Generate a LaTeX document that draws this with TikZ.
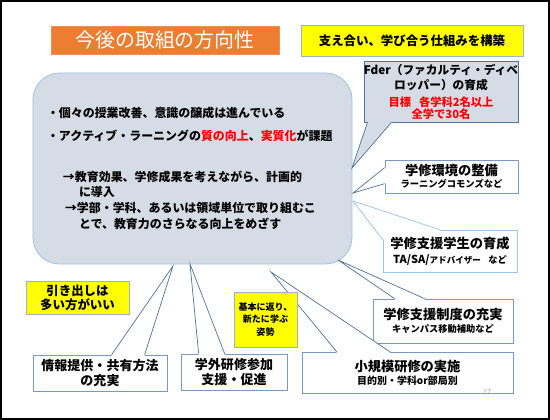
\documentclass[tikz,border=0pt]{standalone}
\usepackage{fontspec}
\setmainfont{Noto Sans CJK JP}
\usetikzlibrary{calc}
\definecolor{slideorange}{HTML}{ED7D31}
\definecolor{slidered}{HTML}{FF0000}
\definecolor{notefill}{HTML}{FFFF00}
\definecolor{noteedge}{HTML}{9EB3C9}
\definecolor{mainfill}{HTML}{D6DCE5}
\definecolor{mainedge}{HTML}{9DC3E6}
\definecolor{boxedge}{HTML}{7A99BD}
\definecolor{tailline}{HTML}{4F7399}
\definecolor{assistedge}{HTML}{9DC3E6}
\tikzset{
    plan_title/.style={
        rectangle,
        draw=slideorange!85!white,
        fill=slideorange,
        text=white,
        minimum width=68.4mm,
        minimum height=8.4mm,
        inner sep=0pt,
        font=\fontsize{17}{20}\selectfont
    },
    plan_banner/.style={
        rectangle,
        draw=noteedge,
        fill=notefill,
        line width=0.5pt,
        minimum width=66.6mm,
        minimum height=9.3mm,
        inner sep=0pt,
        font=\bfseries\fontsize{10.6}{13}\selectfont
    },
    plan_main/.style={
        rectangle,
        rounded corners=8mm,
        draw=mainedge,
        fill=mainfill,
        line width=0.7pt,
        minimum width=95.7mm,
        minimum height=57.3mm,
        text width=87.3mm,
        inner xsep=4.2mm,
        inner ysep=0pt,
        align=left,
        font=\bfseries\fontsize{10.2}{13.4}\selectfont
    },
    plan_callout/.style={
        rectangle,
        draw=boxedge,
        fill=white,
        line width=0.6pt,
        inner sep=0pt,
        align=center,
        font=\bfseries\fontsize{7.9}{10.2}\selectfont
    },
    plan_note/.style={
        rectangle,
        draw=noteedge,
        fill=notefill,
        line width=0.5pt,
        inner sep=0pt,
        align=center,
        font=\bfseries\fontsize{10.6}{12}\selectfont
    },
    plan_tail/.style={
        draw=tailline,
        line width=0.6pt
    },
    plan_tail_light/.style={
        draw=assistedge,
        line width=0.6pt
    }
}
\newcommand{\planhead}[1]{{\fontsize{11.3}{12}\selectfont #1}}
% tail of a callout: fill, line style, base point, tip, base point, shift into the box
\newcommand{\plantail}[6]{
    \fill[#1] (#3) -- (#4) -- (#5) -- ([shift={#6}]#5) -- ([shift={#6}]#3) -- cycle;
    \draw[#2] (#3) -- (#4) -- (#5);
}

\begin{document}
\begin{tikzpicture}[x=0.3mm, y=-0.3mm]
\useasboundingbox (0,0) rectangle (550,420);
\draw[line width=0.6mm] (1,1) rectangle (549,419);

% Headline
\node[plan_title] (title) at (165,40) {今後の取組の方向性};
\node[plan_banner] (banner) at (412,40.5) {支え合い、学び合う仕組みを構築};

% Present state
\node[plan_main] (main) at (192.5,168.5)
  {・個々の授業改善、意識の醸成は進んでいる\\[6.2pt]
   ・アクティブ・ラーニングの\textcolor{slidered}{質の向上}、\textcolor{slidered}{実質化}が課題\\[21pt]
   \hspace*{4.8mm}→教育効果、学修成果を考えながら、計画的\\
   \hspace*{9.6mm}に導入\\
   \hspace*{5.4mm}→学部・学科、あるいは領域単位で取り組むこ\\
   \hspace*{9.6mm}とで、教育力のさらなる向上をめざす};

% Callouts
\node[plan_callout, fill=mainfill, draw=tailline, minimum width=46.2mm, minimum height=18.3mm,
  font=\bfseries\fontsize{10}{10.2}\selectfont] (fder) at (441,91.5)
  {Fder（ファカルティ・ディベ\\[3pt]ロッパー）の育成\\[4pt]
   {\fontsize{9.6}{10}\selectfont\textcolor{slidered}{目標\hspace{0.7em}各学科2名以上}}\\
   {\fontsize{9.6}{10}\selectfont\textcolor{slidered}{全学で30名}}};
\node[plan_callout, minimum width=39.9mm, minimum height=9.9mm] (env) at (451.5,176.5)
  {\planhead{学修環境の整備}\\ラーニングコモンズなど};
\node[plan_callout, draw=assistedge, minimum width=40.2mm, minimum height=12.6mm] (assist) at (450,251)
  {\planhead{学修支援学生の育成}\\[2.4pt]
   {\fontsize{9.4}{10}\selectfont TA/SA/}{\fontsize{7.3}{10}\selectfont アドバイザー}\hspace{0.8em}など};
\node[plan_callout, minimum width=42mm, minimum height=13.2mm] (system) at (443,321)
  {\planhead{学修支援制度の充実}\\[0.9pt]キャンパス移動補助など};
\node[plan_callout, minimum width=63.3mm, minimum height=12.3mm,
  font=\bfseries\fontsize{8.5}{10.2}\selectfont] (small) at (407.5,372.5)
  {\planhead{小規模研修の実施}\\[0.9pt]目的別・学科or部局別};
\node[plan_callout, minimum width=40.2mm, minimum height=10.8mm,
  font=\bfseries\fontsize{11.1}{12.8}\selectfont] (info) at (100,373)
  {情報提供・共有方法\\の充実};
\node[plan_callout, minimum width=31.8mm, minimum height=10.8mm,
  font=\bfseries\fontsize{11.1}{12.8}\selectfont] (outside) at (234,372)
  {学外研修参加\\支援・促進};

% Tails
\coordinate (fderTip) at (352,168);
\coordinate (fderA) at ($(fder.south west)+(4,0)$);
\coordinate (fderB) at ($(fder.south west)+(28,0)$);
\coordinate (envTip) at (353,193);
\coordinate (envA) at ($(env.north west)+(0,8)$);
\coordinate (envB) at ($(env.north west)+(0,24)$);
\coordinate (assistTip) at (353,201);
\coordinate (assistA) at ($(assist.north west)+(57,0)$);
\coordinate (assistB) at ($(assist.north west)+(0,10)$);
\coordinate (systemTip) at (338,260);
\coordinate (systemA) at ($(system.north west)+(22,0)$);
\coordinate (systemB) at ($(system.north west)+(52,0)$);
\coordinate (smallTip) at (271,272);
\coordinate (smallA) at ($(small.north west)+(35,0)$);
\coordinate (smallB) at ($(small.north west)+(88,0)$);
\coordinate (infoTip) at (173,266);
\coordinate (infoA) at ($(info.north west)+(79,0)$);
\coordinate (infoB) at ($(info.north west)+(112,0)$);
\coordinate (outsideTip) at (190,264);
\coordinate (outsideA) at ($(outside.north west)+(18,0)$);
\coordinate (outsideB) at ($(outside.north west)+(44,0)$);

\plantail{mainfill}{plan_tail}{fderA}{fderTip}{fderB}{(0,-2)}
\plantail{white}{plan_tail}{envA}{envTip}{envB}{(2,0)}
\plantail{white}{plan_tail}{systemA}{systemTip}{systemB}{(0,2)}
\plantail{white}{plan_tail}{smallA}{smallTip}{smallB}{(0,2)}
\plantail{white}{plan_tail}{infoA}{infoTip}{infoB}{(0,2)}
\plantail{white}{plan_tail}{outsideA}{outsideTip}{outsideB}{(0,2)}
% this one runs round the corner of its box
\fill[white] (assistA) -- (assistTip) -- (assistB) -- ($(assistB)+(2,0)$)
  -- ($(assist.north west)+(2,2)$) -- ($(assistA)+(0,2)$) -- cycle;
\draw[plan_tail_light] (assistA) -- (assistTip) -- (assistB);

% Notes
\node[plan_note, minimum width=30.9mm, minimum height=9.9mm] (drawer) at (77.5,297.5)
  {引き出しは\\多い方がいい};
\node[plan_note, minimum width=18.9mm, minimum height=16.5mm,
  font=\bfseries\fontsize{7.7}{10.9}\selectfont] (basics) at (265.5,319.5)
  {基本に返り、\\新たに学ぶ\\姿勢};

\node[text=gray!70, font=\fontsize{6}{7}\selectfont] (pageno) at (487,392) {17};
\end{tikzpicture}
\end{document}
